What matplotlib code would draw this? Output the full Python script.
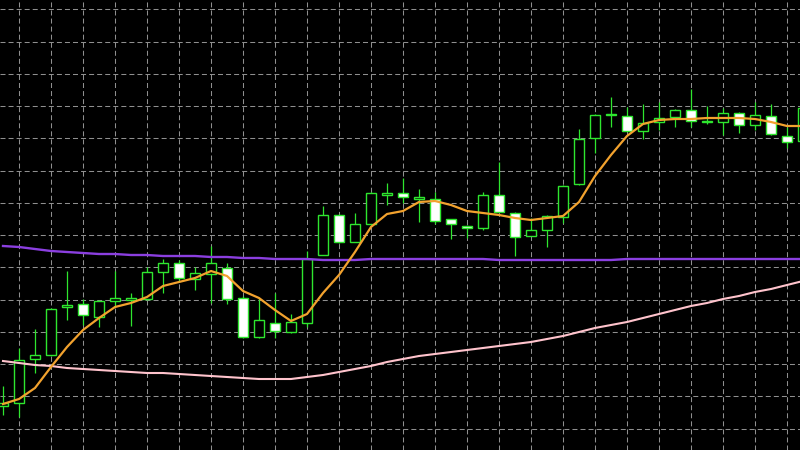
import numpy as np
import matplotlib
matplotlib.use("Agg")
import matplotlib.pyplot as plt
from matplotlib.patches import Rectangle

plt.rcParams["lines.scale_dashes"] = False

# OHLC quotes, one bar per period
opens = [1.1044, 1.1047, 1.1091, 1.1095, 1.1143, 1.1146, 1.1133, 1.1149, 1.1150, 1.1151,
         1.1178, 1.1187, 1.1171, 1.1176, 1.1182, 1.1152, 1.1113, 1.1127, 1.1118, 1.1127,
         1.1195, 1.1235, 1.1208, 1.1226, 1.1255, 1.1257, 1.1251, 1.1251, 1.1231, 1.1224,
         1.1222, 1.1255, 1.1237, 1.1214, 1.1220, 1.1233, 1.1266, 1.1312, 1.1335, 1.1334,
         1.1319, 1.1328, 1.1333, 1.1340, 1.1328, 1.1328, 1.1337, 1.1325, 1.1334, 1.1314,
         1.1309]
highs = [1.1064, 1.1102, 1.1121, 1.1142, 1.1179, 1.1151, 1.1150, 1.1179, 1.1157, 1.1183,
         1.1191, 1.1190, 1.1183, 1.1204, 1.1187, 1.1154, 1.1152, 1.1157, 1.1136, 1.1199,
         1.1244, 1.1236, 1.1237, 1.1258, 1.1267, 1.1272, 1.1261, 1.1258, 1.1231, 1.1225,
         1.1258, 1.1288, 1.1238, 1.1232, 1.1235, 1.1265, 1.1321, 1.1336, 1.1353, 1.1343,
         1.1346, 1.1348, 1.1341, 1.1361, 1.1344, 1.1342, 1.1338, 1.1348, 1.1346, 1.1323,
         1.1345]
lows = [1.1035, 1.1033, 1.1077, 1.1094, 1.1130, 1.1125, 1.1123, 1.1143, 1.1124, 1.1150,
        1.1157, 1.1169, 1.1160, 1.1147, 1.1146, 1.1112, 1.1112, 1.1112, 1.1117, 1.1123,
        1.1195, 1.1207, 1.1208, 1.1225, 1.1245, 1.1247, 1.1228, 1.1226, 1.1211, 1.1212,
        1.1220, 1.1238, 1.1194, 1.1214, 1.1203, 1.1227, 1.1265, 1.1297, 1.1323, 1.1319,
        1.1311, 1.1320, 1.1323, 1.1323, 1.1326, 1.1315, 1.1317, 1.1320, 1.1315, 1.1302,
        1.1306]
closes = [1.1047, 1.1090, 1.1095, 1.1141, 1.1145, 1.1135, 1.1149, 1.1152, 1.1152, 1.1178,
          1.1187, 1.1172, 1.1177, 1.1187, 1.1151, 1.1113, 1.1130, 1.1119, 1.1128, 1.1191,
          1.1235, 1.1208, 1.1226, 1.1257, 1.1257, 1.1253, 1.1253, 1.1229, 1.1226, 1.1222,
          1.1255, 1.1238, 1.1213, 1.1220, 1.1234, 1.1264, 1.1311, 1.1335, 1.1336, 1.1319,
          1.1327, 1.1332, 1.1340, 1.1329, 1.1329, 1.1337, 1.1325, 1.1335, 1.1316, 1.1308,
          1.1342]

# Moving averages sampled at each bar
ma_fast = [1.1046, 1.1051, 1.1062, 1.1083, 1.1103, 1.1120, 1.1132, 1.1143, 1.1147, 1.1153,
           1.1164, 1.1168, 1.1172, 1.1179, 1.1174, 1.1159, 1.1152, 1.1140, 1.1129, 1.1136,
           1.1157, 1.1175, 1.1198, 1.1223, 1.1236, 1.1239, 1.1248, 1.1249, 1.1245, 1.1239,
           1.1237, 1.1235, 1.1232, 1.1230, 1.1232, 1.1234, 1.1248, 1.1274, 1.1295, 1.1314,
           1.1326, 1.1330, 1.1331, 1.1331, 1.1332, 1.1332, 1.1332, 1.1331, 1.1328, 1.1324,
           1.1324]
ma_mid = [1.1204, 1.1203, 1.1201, 1.1199, 1.1198, 1.1197, 1.1196, 1.1196, 1.1195, 1.1195,
          1.1194, 1.1194, 1.1194, 1.1193, 1.1193, 1.1192, 1.1192, 1.1191, 1.1191, 1.1191,
          1.1190, 1.1190, 1.1190, 1.1191, 1.1191, 1.1191, 1.1191, 1.1191, 1.1191, 1.1191,
          1.1191, 1.1190, 1.1190, 1.1190, 1.1190, 1.1190, 1.1190, 1.1190, 1.1190, 1.1191,
          1.1191, 1.1191, 1.1191, 1.1191, 1.1191, 1.1191, 1.1191, 1.1191, 1.1191, 1.1191,
          1.1191]
ma_slow = [1.1089, 1.1087, 1.1085, 1.1084, 1.1082, 1.1081, 1.1080, 1.1079, 1.1078, 1.1077,
           1.1077, 1.1076, 1.1075, 1.1074, 1.1073, 1.1072, 1.1071, 1.1071, 1.1071, 1.1073,
           1.1075, 1.1078, 1.1081, 1.1084, 1.1088, 1.1091, 1.1094, 1.1096, 1.1098, 1.1100,
           1.1102, 1.1104, 1.1106, 1.1108, 1.1111, 1.1114, 1.1118, 1.1122, 1.1125, 1.1128,
           1.1132, 1.1136, 1.1140, 1.1144, 1.1147, 1.1151, 1.1154, 1.1158, 1.1161, 1.1165,
           1.1169]

BG = "black"
CANDLE = "#2ee62e"
BEAR_FILL = "white"
BULL_FILL = "black"
GRID = "#8f8f8f"

fig = plt.figure(figsize=(8, 4.5), dpi=100, facecolor=BG)
ax = fig.add_axes([0, 0, 1, 1], facecolor=BG)

n = len(opens)
x = np.arange(n)
px = 1 / 16.0  # one screen pixel in bar units
y_top, y_bot = 1.1450, 1.1000

# chart grid
grid_step = (y_top - y_bot) * 32.25 / 450
ygrid = np.arange(y_top - (y_top - y_bot) * 9.3 / 450, y_bot, -grid_step)
ax.set_xticks(np.arange(1, n, 2))
ax.set_yticks(ygrid)
ax.grid(True, color=GRID, linestyle=(0, (3.6, 2.2)), linewidth=0.75, zorder=0)
ax.tick_params(length=0, labelbottom=False, labelleft=False)
for s in ax.spines.values():
    s.set_visible(False)

# candles
body_w = 0.64
ax.vlines(x, lows, highs, color=CANDLE, linewidth=0.9, zorder=2)
for i in range(n):
    o, c = opens[i], closes[i]
    lo, hi = min(o, c), max(o, c)
    fill = BULL_FILL if c >= o else BEAR_FILL
    ax.add_patch(Rectangle((x[i] - body_w / 2, lo), body_w, hi - lo,
                           facecolor=fill, edgecolor=CANDLE, linewidth=1.0, zorder=3))

# moving averages
ax.plot(x, ma_mid, color="#8b3fe0", linewidth=1.7, zorder=4)
ax.plot(x, ma_slow, color="#ffc3cc", linewidth=1.5, zorder=4)
ax.plot(x, ma_fast, color="#f2a22e", linewidth=1.6, zorder=5)

ax.set_xlim(-3 * px, 797 * px)
ax.set_ylim(y_bot, y_top)

fig.savefig("out.png", dpi=100, facecolor=BG)
